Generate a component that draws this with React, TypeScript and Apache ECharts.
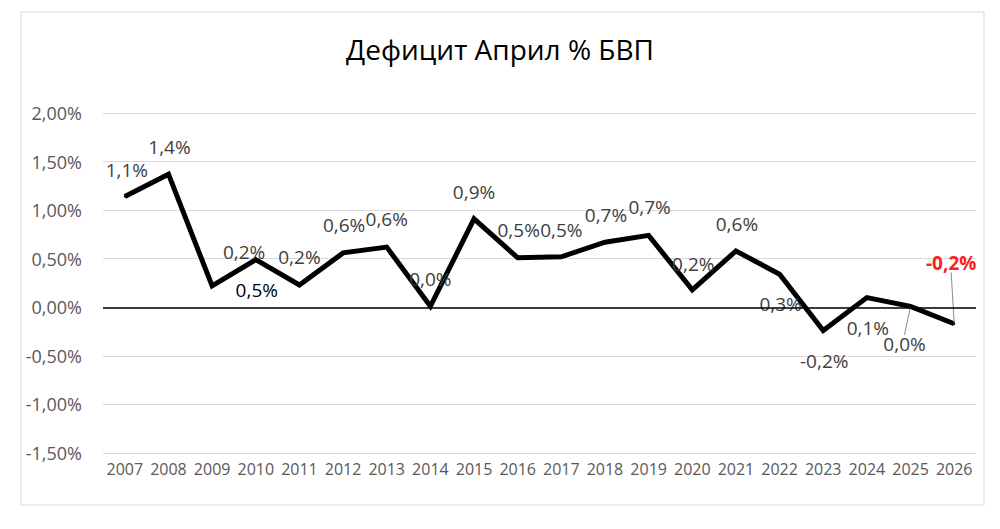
import React, { useEffect, useRef } from "react";
import * as echarts from "echarts";

const years = ["2007","2008","2009","2010","2011","2012","2013","2014","2015","2016","2017","2018","2019","2020","2021","2022","2023","2024","2025","2026"];
const deficit = [1.14, 1.37, 0.22, 0.49, 0.23, 0.56, 0.62, 0.01, 0.91, 0.51, 0.52, 0.67, 0.74, 0.18, 0.58, 0.34, -0.24, 0.10, 0.01, -0.17];
const labelOffsets: number[][] = [
  [2,-27],[1,-27],[32,-34],[1,30],[0,-28],[1,-28],[0,-28],[0,-27],[0,-27],[1,-28],
  [0,-27],[1,-27],[1,-28],[1,-26],[1,-27],[1,30],[1,30],[1,30],[-6,38],[-3,-61]
];
const yTicks = { min: -1.5, max: 2, interval: 0.5 };
const title = "Дефицит Април % БВП";

const fmt = (v: number) => v.toFixed(1).replace(".", ",") + "%";

export default function App() {
  const ref = useRef<HTMLDivElement>(null);
  useEffect(() => {
    const chart = echarts.init(ref.current!, null, { renderer: "svg" });
    const data = deficit.map((v, i) => {
      const item: any = { value: v };
      if (i === 3) item.label = { color: "#000000" };
      if (i === 19) {
        item.label = { color: "#ff2020", fontWeight: "bold" };
        item.labelLine = { show: true, lineStyle: { color: "#8c8c8c", width: 1 } };
      }
      if (i === 18) {
        item.labelLine = { show: true, lineStyle: { color: "#8c8c8c", width: 1 } };
      }
      return item;
    });
    chart.setOption({
      animation: false,
      backgroundColor: "#ffffff",
      title: {
        text: title,
        left: "center",
        top: 30,
        textStyle: { fontFamily: "Open Sans", fontSize: 28, fontWeight: "normal", color: "#000000" },
      },
      graphic: [
        {
          type: "rect",
          shape: { x: 21, y: 12, width: 963, height: 493 },
          style: { fill: "none", stroke: "#d9d9d9", lineWidth: 1 },
          silent: true,
        },
      ],
      grid: { left: 103, right: 24, top: 113, bottom: 76 },
      xAxis: {
        type: "category",
        data: years,
        boundaryGap: true,
        axisLine: { show: false, onZero: false },
        axisTick: { show: false },
        axisLabel: { interval: 0, color: "#595959", fontFamily: "Open Sans", fontSize: 16, margin: 8 },
      },
      yAxis: {
        type: "value",
        min: yTicks.min,
        max: yTicks.max,
        interval: yTicks.interval,
        axisLine: { show: false },
        axisTick: { show: false },
        splitLine: { lineStyle: { color: "#d9d9d9", width: 1 } },
        axisLabel: {
          color: "#595959",
          fontFamily: "Open Sans",
          fontSize: 18,
          margin: 21,
          formatter: (v: number) => v.toFixed(2).replace(".", ",") + "%",
        },
      },
      series: [
        {
          type: "line",
          data: [],
          z: 1,
          silent: true,
          markLine: {
            silent: true,
            symbol: ["none", "none"],
            label: { show: false },
            lineStyle: { color: "#000000", width: 1.5, type: "solid" },
            data: [{ yAxis: 0 }],
          },
        },
        {
          type: "line",
          data,
          z: 3,
          symbol: "circle",
          symbolSize: 2,
          showSymbol: true,
          itemStyle: { color: "#000000" },
          lineStyle: { color: "#000000", width: 5, join: "miter" },
          label: {
            show: true,
            position: "inside",
            fontFamily: "Open Sans",
            fontSize: 19,
            color: "#404040",
            formatter: (p: any) => fmt(p.value),
          },
          labelLine: { show: false },
          labelLayout: (p: any) => ({ dx: labelOffsets[p.dataIndex][0], dy: labelOffsets[p.dataIndex][1] }),
        },
      ],
    });
    return () => chart.dispose();
  }, []);
  return <div ref={ref} style={{ position: "fixed", left: 0, top: 0, width: 1000, height: 529 }} />;
}
